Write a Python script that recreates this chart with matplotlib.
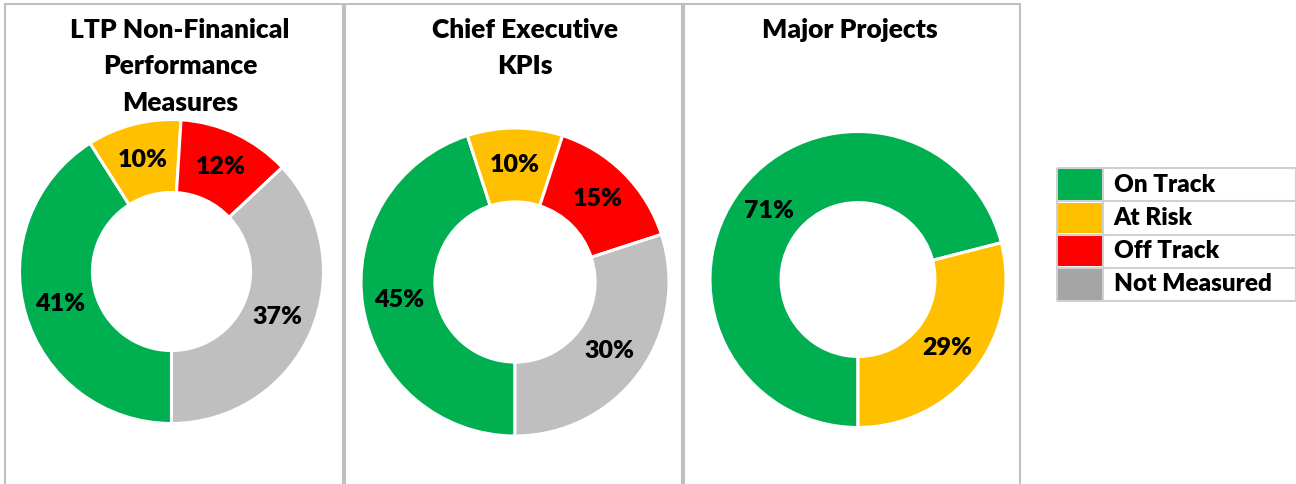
import numpy as np
import matplotlib.pyplot as plt
from matplotlib.patches import Rectangle

plt.rcParams['font.family'] = ['Lato', 'DejaVu Sans']

W, H = 1296, 484
mydpi = 100

# data
categories = ['On Track', 'At Risk', 'Off Track', 'Not Measured']
titles = ['LTP Non-Finanical\nPerformance\nMeasures', 'Chief Executive\nKPIs', 'Major Projects']
ltp_values = [41, 10, 12, 37]
ce_values = [45, 10, 15, 30]
mp_values = [71, 29]
all_values = [ltp_values, ce_values, mp_values]

slice_colors = ['#00B050', '#FFC000', '#FF0000', '#BFBFBF']
legend_colors = ['#00B050', '#FFC000', '#FF0000', '#A5A5A5']

# layout in pixels (x centre, y centre, radius) for each donut
donuts = [(171.5, 271.5, 152), (515, 282, 154), (858, 279.5, 148)]
title_x = [180, 525, 850]
panels = [(5, 343), (345, 682), (684, 1020)]
hole = 0.52
wt = 'heavy'

fig = plt.figure(figsize=(W / mydpi, H / mydpi), dpi=mydpi)


def px_axes(x0, y0, x1, y1):
    # axes from pixel box, y measured from the top
    return fig.add_axes([x0 / W, 1 - y1 / H, (x1 - x0) / W, (y1 - y0) / H])


# panel borders (open at the bottom)
for left, right in panels:
    fig.add_artist(Rectangle((left / W, -0.2), (right - left) / W, 1.2 - 4 / H,
                             transform=fig.transFigure, fill=False,
                             edgecolor='#BFBFBF', linewidth=1.5))

for i, vals in enumerate(all_values):
    cx, cy, R = donuts[i]
    ax = px_axes(cx - R, cy - R, cx + R, cy + R)
    ax.pie(vals, colors=slice_colors[:len(vals)], startangle=-90, counterclock=False,
           radius=1, autopct='%.0f%%', pctdistance=(1 + hole) / 2,
           wedgeprops=dict(width=1 - hole, edgecolor='white', linewidth=2.2),
           textprops=dict(fontsize=18, fontweight=wt, color='black'))
    ax.set_xlim(-1, 1)
    ax.set_ylim(-1, 1)
    ax.axis('off')

    fig.text(title_x[i] / W, 1 - 18 / H, titles[i], ha='center', va='top',
             fontsize=19, fontweight=wt, linespacing=1.62)

# legend drawn as a small table
lx0, ly0, lx1, ly1 = 1056, 167, 1296, 302
lax = px_axes(lx0, ly0, lx1, ly1)
n = len(categories)
rows = np.arange(n)
lax.barh(rows, 45, left=0.5, height=0.92, color=legend_colors)
lax.hlines(np.arange(n + 1) - 0.5, 0, 240, color='#D0D0D0', linewidth=1.5)
lax.vlines([0, 46, 239.5], -0.5, n - 0.5, color='#D0D0D0', linewidth=1.5)
for r, name in zip(rows, categories):
    lax.text(57, r, name, ha='left', va='center', fontsize=17.5, fontweight=wt)
lax.set_xlim(-1, 240)
lax.set_ylim(n - 0.5 + 0.03, -0.5 - 0.03)
lax.axis('off')

plt.savefig('out.png', dpi=mydpi)
